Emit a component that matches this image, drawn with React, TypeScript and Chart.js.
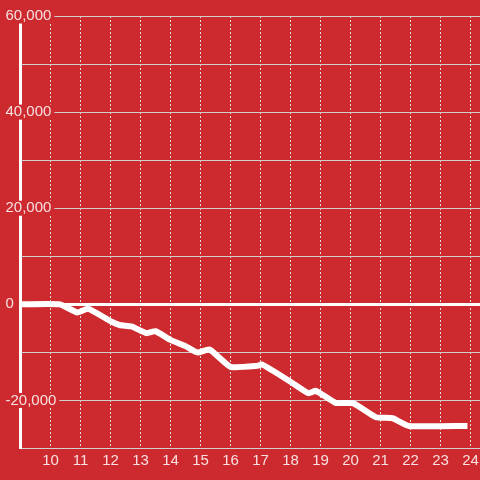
import React, { useEffect, useRef } from "react";
import { Chart, registerables } from "chart.js";

Chart.register(...registerables);

const xValues = [9, 10.3, 10.9, 11.25, 12.0, 12.3, 12.7, 13.2, 13.5, 14.0, 14.5, 14.9, 15.3, 16.0, 16.9, 17.05, 18.0, 18.6, 18.85, 19.5, 20.1, 20.85, 21.4, 21.95, 23.9];
const yValues = [0, 0, -1700, -900, -3500, -4300, -4600, -6000, -5600, -7400, -8700, -10000, -9400, -13000, -12800, -12500, -16100, -18500, -18000, -20500, -20600, -23500, -23700, -25300, -25300];
const xTicks = [10, 11, 12, 13, 14, 15, 16, 17, 18, 19, 20, 21, 22, 23, 24];
const yLabelStep = 20000;

const BG = "rgb(204,42,46)";
const LABEL = "rgba(255,255,255,0.85)";
const FONT = { family: "'Liberation Sans', Arial, sans-serif", size: 15, lineHeight: 1 };

export default function App() {
  const ref = useRef<HTMLCanvasElement | null>(null);
  useEffect(() => {
    if (!ref.current) return;
    const chart = new Chart(ref.current, {
      type: "line",
      data: {
        datasets: [
          {
            data: xValues.map((x, i) => ({ x, y: yValues[i] })),
            borderColor: "#ffffff",
            borderWidth: 6,
            pointRadius: 0,
            tension: 0.15,
            borderJoinStyle: "round",
            fill: false,
          },
        ],
      },
      options: {
        animation: false,
        responsive: false,
        maintainAspectRatio: false,
        layout: { padding: { top: 16, left: 4, right: 0, bottom: 0 } },
        plugins: { legend: { display: false }, tooltip: { enabled: false } },
        scales: {
          x: {
            type: "linear",
            min: 9,
            max: 24.317,
            afterBuildTicks: (scale: any) => {
              scale.ticks = xTicks.map((v) => ({ value: v }));
            },
            afterFit: (scale: any) => {
              scale.height = 31.5;
              scale.paddingLeft = 0;
              scale.paddingRight = 0;
            },
            grid: {
              color: "#e0e0e0",
              lineWidth: 1,
              drawTicks: false,
            },
            border: { color: "#d0d0d0", width: 1, dash: [2, 2] },
            ticks: { color: LABEL, font: FONT, padding: 5, maxRotation: 0, autoSkip: false },
          },
          y: {
            min: -30000,
            max: 60000,
            afterFit: (scale: any) => {
              scale.width = 16.5;
            },
            grid: {
              color: (ctx: any) => (ctx.tick && ctx.tick.value === 0 ? "#ffffff" : "#d0d0d0"),
              lineWidth: (ctx: any) => (ctx.tick && ctx.tick.value === 0 ? 3 : 1),
              drawTicks: false,
            },
            border: { color: "#ffffff", width: 3 },
            ticks: {
              stepSize: 10000,
              color: LABEL,
              font: FONT,
              mirror: true,
              crossAlign: "near",
              padding: -15,
              showLabelBackdrop: true,
              backdropColor: BG,
              backdropPadding: { top: 0, right: 3, bottom: 0, left: 2 },
              callback: (v: any) => (Number(v) % yLabelStep === 0 ? Number(v).toLocaleString("en-US") : ""),
            } as any,
          },
        },
      },
    });
    return () => chart.destroy();
  }, []);
  return (
    <div style={{ position: "fixed", left: 0, top: 0, width: 480, height: 480, background: BG }}>
      <canvas ref={ref} width={480} height={480} style={{ display: "block", width: 480, height: 480 }} />
    </div>
  );
}
